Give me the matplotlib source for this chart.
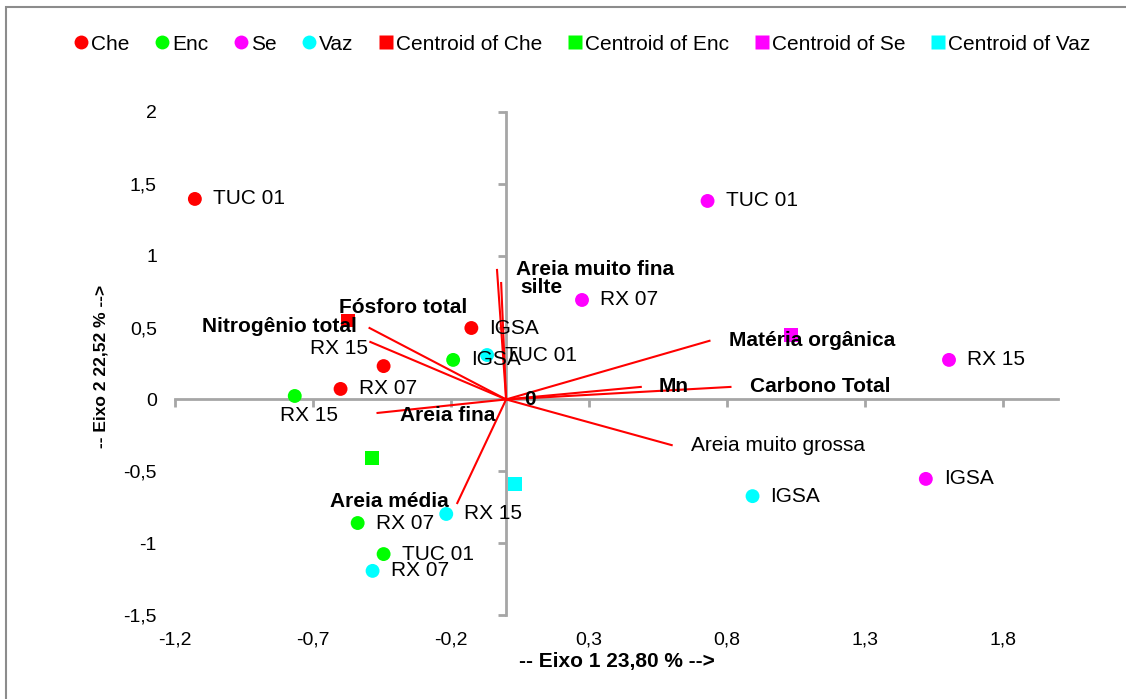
import matplotlib
matplotlib.use("Agg")
import matplotlib.pyplot as plt
from matplotlib.lines import Line2D
from matplotlib.patches import Rectangle
import numpy as np

plt.rcParams['font.family'] = ['Liberation Sans', 'DejaVu Sans']

# observations (F1, F2)
groups = ['Che', 'Enc', 'Se', 'Vaz']
group_colors = ['#ff0000', '#00ff00', '#ff00ff', '#00ffff']
che_names = ['TUC 01', 'IGSA', 'RX 15', 'RX 07']
che_x = [-1.128, -0.126, -0.444, -0.600]
che_y = [1.395, 0.497, 0.232, 0.073]
enc_names = ['RX 15', 'IGSA', 'RX 07', 'TUC 01']
enc_x = [-0.766, -0.192, -0.538, -0.444]
enc_y = [0.024, 0.275, -0.860, -1.076]
se_names = ['TUC 01', 'RX 07', 'RX 15', 'IGSA']
se_x = [0.730, 0.275, 1.605, 1.521]
se_y = [1.381, 0.692, 0.275, -0.553]
vaz_names = ['TUC 01', 'IGSA', 'RX 15', 'RX 07']
vaz_x = [-0.069, 0.893, -0.217, -0.484]
vaz_y = [0.309, -0.673, -0.797, -1.193]

# variables (loadings)
var_names = ['Areia muito fina', 'silte', 'Fósforo total', 'Nitrogênio total',
             'Areia fina', 'Areia média', 'Matéria orgânica', 'Mn',
             'Carbono Total', 'Areia muito grossa']
var_x = [-0.033, -0.018, -0.495, -0.492, -0.466, -0.177, 0.737, 0.488, 0.813, 0.600]
var_y = [0.901, 0.810, 0.497, 0.400, -0.094, -0.721, 0.408, 0.087, 0.087, -0.318]
var_bold = [True, True, True, True, True, True, True, True, True, False]

xticks = [-1.2, -0.7, -0.2, 0.3, 0.8, 1.3, 1.8]
yticks = [-1.5, -1, -0.5, 0, 0.5, 1, 1.5, 2]

series = [(che_names, che_x, che_y), (enc_names, enc_x, enc_y),
          (se_names, se_x, se_y), (vaz_names, vaz_x, vaz_y)]

# label offsets in points (most labels sit right of the point)
default_off = (13, 0, 'left', 'center')
label_off = {('Che', 'RX 15'): (-32, 13, 'center', 'center'),
             ('Enc', 'RX 15'): (10, -14, 'center', 'center')}
var_off = {'Areia muito fina': (14, 0, 'left', 'center'),
           'silte': (14, -3, 'left', 'center'),
           'Fósforo total': (-22, 15, 'left', 'center'),
           'Nitrogênio total': (-10, 11, 'right', 'center'),
           'Areia fina': (16, -2, 'left', 'center'),
           'Areia média': (-6, 1, 'right', 'center'),
           'Matéria orgânica': (14, 0, 'left', 'center'),
           'Mn': (13, 0, 'left', 'center'),
           'Carbono Total': (14, 0, 'left', 'center'),
           'Areia muito grossa': (14, 0, 'left', 'center')}

fig = plt.figure(figsize=(11.26, 6.99), dpi=100)
ax = fig.add_axes([175/1126, 1-615/699, 883/1126, 503/699])
ax.set_xlim(-1.2, 2.0)
ax.set_ylim(-1.5, 2.0)

axis_col = '#a6a6a6'
for side in ['top', 'right']:
    ax.spines[side].set_visible(False)
ax.spines['left'].set_position(('data', 0))
ax.spines['bottom'].set_position(('data', 0))
for side in ['left', 'bottom']:
    ax.spines[side].set_color(axis_col)
    ax.spines[side].set_linewidth(2)
ax.set_xticks(xticks)
ax.set_yticks(yticks)
ax.tick_params(axis='both', direction='out', length=6, width=2, color=axis_col,
               labelleft=False, labelbottom=False)

# tick labels on the outer edges
secy = ax.secondary_yaxis(0.0)
secy.set_yticks(yticks)
secy.set_yticklabels([f'{v:g}'.replace('.', ',') for v in yticks])
secy.spines['left'].set_visible(False)
secy.tick_params(length=0, pad=13, labelsize=14)
secx = ax.secondary_xaxis(0.0)
secx.set_xticks(xticks)
secx.set_xticklabels([f'{v:g}'.replace('.', ',') for v in xticks])
secx.spines['bottom'].set_visible(False)
secx.tick_params(length=0, pad=12, labelsize=14)

# variable vectors
for name, vx, vy, b in zip(var_names, var_x, var_y, var_bold):
    ax.plot([0, vx], [0, vy], color='#ff0000', lw=1.5, zorder=3)
    dx, dy, ha, va = var_off[name]
    ax.annotate(name, (vx, vy), xytext=(dx, dy), textcoords='offset points',
                ha=ha, va=va, fontsize=15, fontweight='bold' if b else 'normal',
                zorder=5)
ax.annotate('0', (0, 0), xytext=(13, 0), textcoords='offset points',
            ha='left', va='center', fontsize=15, fontweight='bold')

# observations and centroids
for g, col, (names, xs, ys) in zip(groups, group_colors, series):
    ax.scatter(xs, ys, s=100, color=col, marker='o', edgecolors='none', zorder=4)
    ax.scatter([np.mean(xs)], [np.mean(ys)], s=100, color=col, marker='s',
               edgecolors='none', zorder=4)
    for n, x, y in zip(names, xs, ys):
        dx, dy, ha, va = label_off.get((g, n), default_off)
        ax.annotate(n, (x, y), xytext=(dx, dy), textcoords='offset points',
                    ha=ha, va=va, fontsize=15, zorder=5)

fig.text(617/1126, 1-662/699, '-- Eixo 1 23,80 % -->', ha='center', va='center',
         fontsize=15, fontweight='bold')
fig.text(101/1126, 1-366/699, '-- Eixo 2 22,52 % -->', ha='center', va='center',
         rotation=90, fontsize=12.5, fontweight='bold')

handles = []
for g, col in zip(groups, group_colors):
    handles.append(Line2D([], [], ls='none', marker='o', ms=10, color=col,
                          markeredgecolor='none', label=g))
for g, col in zip(groups, group_colors):
    handles.append(Line2D([], [], ls='none', marker='s', ms=10, color=col,
                          markeredgecolor='none', label='Centroid of ' + g))
fig.legend(handles=handles, loc='center', bbox_to_anchor=(582/1126, 1-44/699),
           ncol=8, frameon=False, fontsize=15, handlelength=0.7,
           handletextpad=0.15, columnspacing=1.2)

fig.patches.append(Rectangle((6/1126, -0.05), 1.1, 1-7/699+0.05,
                             transform=fig.transFigure, fill=False,
                             edgecolor='#8c8c8c', lw=1.5))

fig.savefig('out.png', dpi=100)
